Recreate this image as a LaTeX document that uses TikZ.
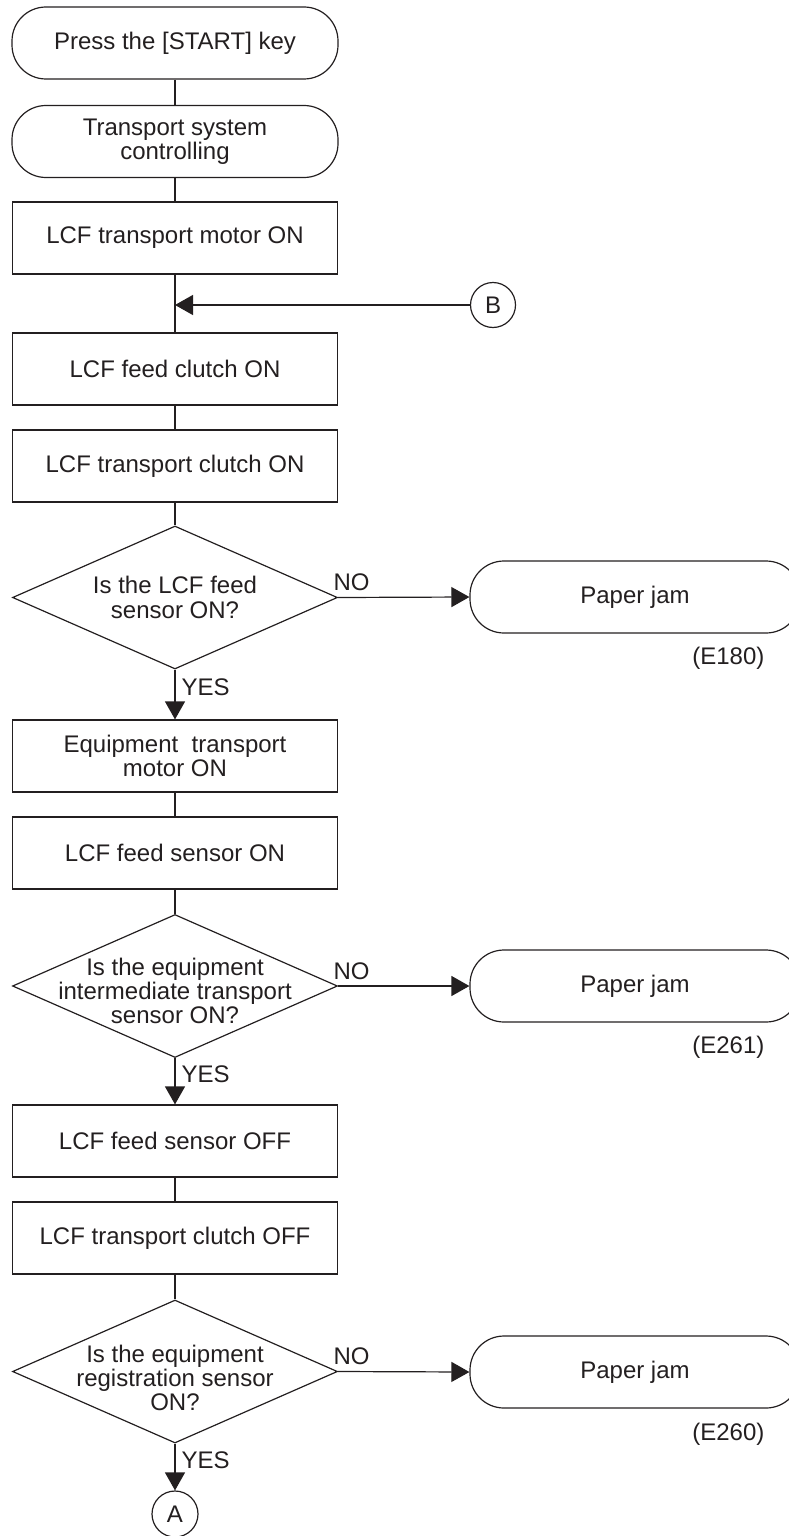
\documentclass[tikz,border=0pt]{standalone}
\usepackage{fontspec}
\setmainfont{Liberation Sans}
\usetikzlibrary{shapes.geometric,arrows.meta}
\definecolor{ink}{RGB}{35,31,32}
\begin{document}
\begin{tikzpicture}[x=0.5pt,y=-0.5pt,
  font=\fontsize{12}{12.2}\selectfont, line width=0.6pt, color=ink,
  term/.style={draw, rounded corners=17pt, minimum width=163pt, minimum height=36pt, inner sep=0pt, align=center},
  pjam/.style={term, minimum width=165pt},
  proc/.style={draw, rectangle, minimum width=162.5pt, minimum height=36pt, inner sep=0pt, align=center},
  dshape/.style={draw, diamond, minimum width=162.5pt, minimum height=71.5pt, inner sep=0pt},
  dtext/.style={inner sep=0pt, align=center},
  conn/.style={draw, circle, minimum size=22.5pt, inner sep=0pt},
  arr/.style={-{Triangle[length=9pt,width=10pt]}},
  lbl/.style={inner sep=0pt}]
\useasboundingbox (0,0) rectangle (788,1536);

% main column
\node[term] (start) at (175,43) {Press the [START] key};
\node[term] (tsc) at (175,141.5) {Transport system\\controlling};
\node[proc] (b1) at (175,238) {LCF transport motor ON};
\node[conn] (B) at (493,305) {B};
\coordinate (jB) at (175,305);
\node[proc] (b2) at (175,369) {LCF feed clutch ON};
\node[proc] (b3) at (175,466) {LCF transport clutch ON};
\node[dshape] (d1) at (175,597.5) {};
\node[dtext] (d1t) at (175,597.5) {Is the LCF feed\\sensor ON?};
\node[pjam] (pj1) at (635,597) {Paper jam};
\node[lbl, anchor=base east] (e1) at (765,664) {(E180)};
\node[lbl, anchor=base west] (no1) at (333,590) {NO};
\node[lbl, anchor=base west] (yes1) at (181,695) {YES};
\node[proc] (b4) at (175,756) {Equipment\ \ transport\\motor ON};
\node[proc] (b5) at (175,853) {LCF feed sensor ON};
\node[dshape] (d2) at (175,986) {};
\node[dtext] (d2t) at (175,991) {Is the equipment\\intermediate transport\\sensor ON?};
\node[pjam] (pj2) at (635,986) {Paper jam};
\node[lbl, anchor=base east] (e2) at (765,1053) {(E261)};
\node[lbl, anchor=base west] (no2) at (333,979) {NO};
\node[lbl, anchor=base west] (yes2) at (181,1082) {YES};
\node[proc] (b6) at (175,1141) {LCF feed sensor OFF};
\node[proc] (b7) at (175,1238) {LCF transport clutch OFF};
\node[dshape] (d3) at (175,1371.5) {};
\node[dtext] (d3t) at (175,1378) {Is the equipment\\registration sensor\\ON?};
\node[pjam] (pj3) at (635,1372) {Paper jam};
\node[lbl, anchor=base east] (e3) at (765,1440) {(E260)};
\node[lbl, anchor=base west] (no3) at (333,1364) {NO};
\node[lbl, anchor=base west] (yes3) at (181,1468) {YES};
\node[conn, minimum size=23pt] (A) at (175,1514) {A};

% connectors
\draw (start) -- (tsc);
\draw (tsc) -- (b1);
\draw (b1) -- (b2);
\draw[arr] (B) -- (jB);
\draw (b2) -- (b3);
\draw (b3) -- (d1);
\draw[arr] (d1.east) -- (pj1.west);
\draw[arr] (d1.south) -- (b4.north);
\draw (b4) -- (b5);
\draw (b5) -- (d2);
\draw[arr] (d2.east) -- (pj2.west);
\draw[arr] (d2.south) -- (b6.north);
\draw (b6) -- (b7);
\draw (b7) -- (d3);
\draw[arr] (d3.east) -- (pj3.west);
\draw[arr] (d3.south) -- (A.north);
\end{tikzpicture}
\end{document}
